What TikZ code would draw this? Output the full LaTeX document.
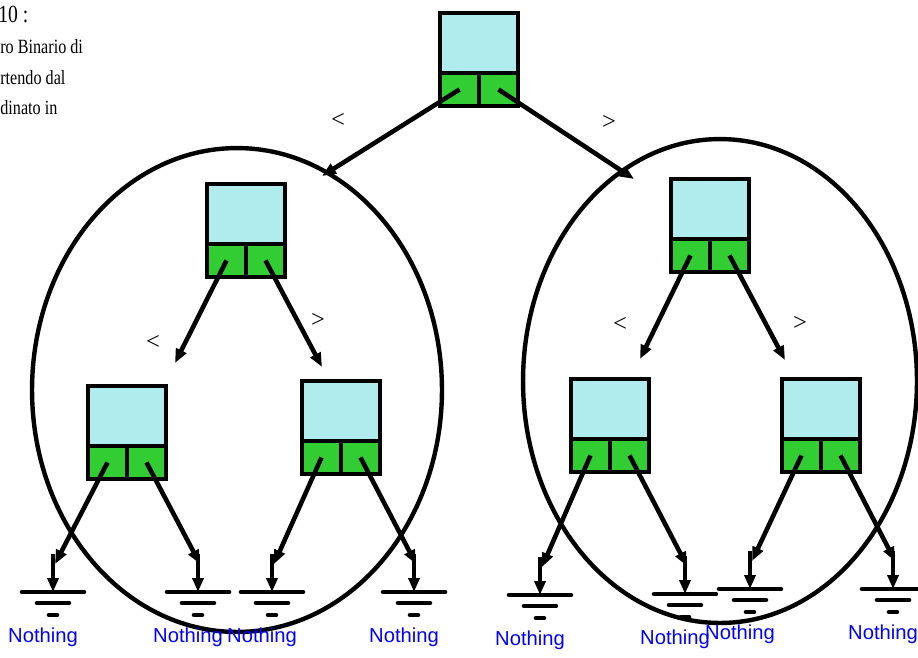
\documentclass[tikz,border=0pt]{standalone}
\usepackage{fontspec}
\setmainfont{Liberation Serif}
\newfontfamily\narrowserif[FakeStretch=0.8]{Liberation Serif}
\newfontfamily\labelsans{Liberation Sans}
\usetikzlibrary{arrows.meta}
\definecolor{keycyan}{RGB}{176,236,238}
\definecolor{ptrgreen}{RGB}{50,205,50}

\begin{document}
\begin{tikzpicture}[x=0.02cm,y=-0.02cm,
        arr/.style={line width=2.6pt,-{Triangle[length=0.28cm,width=0.22cm]}},
        keybox/.style={draw,line width=2.5pt,fill=keycyan,minimum width=1.56cm,minimum height=1.2cm,inner sep=0pt,outer sep=0pt},
        ptrbox/.style={draw,line width=2.5pt,fill=ptrgreen,minimum width=0.78cm,minimum height=0.66cm,inner sep=0pt,outer sep=0pt},
        cmp/.style={font=\fontsize{14}{14}\selectfont},
        nil/.style={text=blue,font=\labelsans\fontsize{11.5}{12}\selectfont},
        note/.style={anchor=base west,inner sep=0pt,font=\narrowserif\fontsize{11.5}{12}\selectfont}]
        \useasboundingbox (0,0) rectangle (918,657);

        % text cut off at the left edge
        \node[note,font=\narrowserif\fontsize{14}{14}\selectfont] (title) at (-2,22) {10 :};
        \node[note] (line1) at (0,53) {ro Binario di};
        \node[note] (line2) at (0,84) {rtendo dal};
        \node[note] (line3) at (0,114) {dinato in};

        % subtrees
        \draw[line width=2.5pt] (237,390) ellipse [x radius=4.1cm, y radius=4.84cm];
        \draw[line width=2.5pt] (720,381) ellipse [x radius=3.94cm, y radius=4.84cm];

        % nodes: key on top, two pointers below
        \foreach \n/\x/\y in {top/440/13, L/207/184, R/671/179, LL/88/386, LR/302/381, RL/571/379, RR/782/379} {
            \node[keybox,anchor=north west] (\n) at (\x,\y) {};
            \node[ptrbox,anchor=north west] (\n-l) at (\n.south west) {};
            \node[ptrbox,anchor=north east] (\n-r) at (\n.south east) {};
        }

        % ground symbols with Nothing
        \foreach \g/\x/\y in {g1/53/592, g2/198/592, g3/272/592, g4/414/592, g5/540/595, g6/685/594, g7/750/589, g8/893/589} {
            \coordinate (\g) at (\x,\y);
            \coordinate (\g-top) at (\x+2,\y-28);
            \coordinate (\g-stem) at (\x,\y-38);
            \draw[arr] (\g-stem) -- (\g);
            \draw[line width=2.6pt,line cap=round] (\x-31,\y) -- (\x+31,\y);
            \draw[line width=2.6pt,line cap=round] (\x-16,\y+11) -- (\x+16,\y+11);
            \draw[line width=2.6pt,line cap=round] (\x-4,\y+23) -- (\x+4,\y+23);
            \node[nil] (\g-txt) at (\x-10,\y+45) {Nothing};
        }

        % ends of the first arrows
        \coordinate (Lin) at (322,176);
        \coordinate (Rin) at (634,179);
        \coordinate (LLin) at (175,363);
        \coordinate (LRin) at (322,367);
        \coordinate (RLin) at (640,359);
        \coordinate (RRin) at (785,360);

        \draw[arr] (top-l.center) -- (Lin);
        \draw[arr] (top-r.center) -- (Rin);
        \draw[arr] (L-l.center) -- (LLin);
        \draw[arr] (L-r.center) -- (LRin);
        \draw[arr] (R-l.center) -- (RLin);
        \draw[arr] (R-r.center) -- (RRin);

        \draw[arr] (LL-l.center) -- (g1-top);
        \draw[arr] (LL-r.center) -- (g2-top);
        \draw[arr] (LR-l.center) -- (g3-top);
        \draw[arr] (LR-r.center) -- (g4-top);
        \draw[arr] (RL-l.center) -- (g5-top);
        \draw[arr] (RL-r.center) -- (g6-top);
        \draw[arr] (RR-l.center) -- (g7-top);
        \draw[arr] (RR-r.center) -- (g8-top);

        % comparison signs
        \node[cmp] (lt0) at (338,120) {<};
        \node[cmp] (gt0) at (609,122) {>};
        \node[cmp] (lt1) at (153,342) {<};
        \node[cmp] (gt1) at (318,320) {>};
        \node[cmp] (lt2) at (620,324) {<};
        \node[cmp] (gt2) at (800,323) {>};
\end{tikzpicture}
\end{document}
